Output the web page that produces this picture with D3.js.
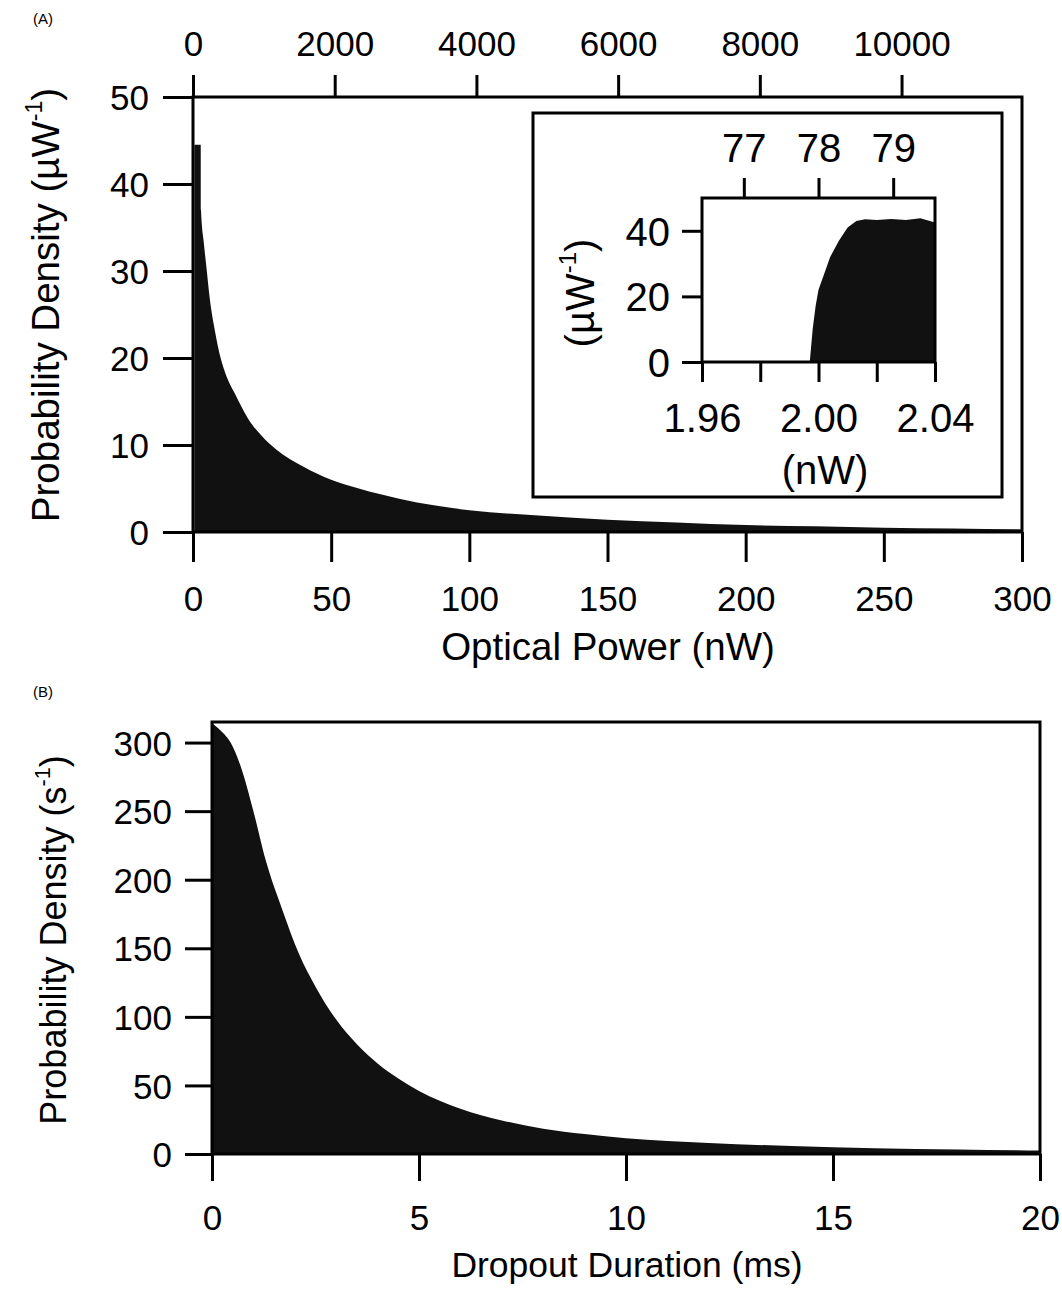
<!DOCTYPE html>
<html><head><meta charset="utf-8">
<script src="https://cdn.jsdelivr.net/npm/d3@7"></script>
<style>
html,body{margin:0;padding:0;background:#fff;}
svg text{font-family:"Liberation Sans",Arial,Helvetica,sans-serif;fill:#000;}
</style></head>
<body>
<svg id="chart" width="1062" height="1293"></svg>
<script>
// ---------- DATA ----------
// Panel A: optical power histogram (nW -> probability density µW^-1)
const powerNW   = [0.5, 2.8, 2.9, 4, 5, 6, 8, 10, 12, 15, 20, 25, 30, 40, 50, 60, 75, 100, 125, 150, 175, 200, 225, 250, 275, 300];
const densityA  = [44.5, 44.5, 37, 33, 30, 27, 23, 20, 18, 16, 13, 11, 9.5, 7.5, 6.0, 5.0, 3.8, 2.5, 1.9, 1.4, 1.1, 0.8, 0.65, 0.5, 0.4, 0.3];
const xTicksA     = [0, 50, 100, 150, 200, 250, 300];
const xTopTicksA  = [0, 2000, 4000, 6000, 8000, 10000];
const yTicksA     = [0, 10, 20, 30, 40, 50];
const topFactor   = 39; // top axis units per nW

// Inset: zoom near threshold
const insetPowerNW = [1.997, 1.998, 1.999, 2.000, 2.002, 2.004, 2.007, 2.010, 2.013, 2.016, 2.020, 2.025, 2.030, 2.035, 2.040];
const insetDensity = [0, 10, 17, 22, 27, 32, 37, 41, 43, 43.5, 43.3, 43.6, 43.3, 43.8, 42.5];
const insetXTicks      = [1.96, 1.98, 2.00, 2.02, 2.04];
const insetXTickLabels = ["1.96", "", "2.00", "", "2.04"];
const insetTopTicks    = [77, 78, 79];
const insetYTicks      = [0, 20, 40];

// Panel B: dropout duration (ms -> probability density s^-1)
const durationMS = [0, 0.2, 0.45, 0.7, 1.0, 1.3, 1.7, 2.1, 2.5, 3.0, 3.5, 4.0, 4.5, 5.0, 6.0, 7.0, 8.0, 9.0, 10, 11, 12, 14, 16, 18, 20];
const densityB   = [314, 309, 300, 282, 250, 214, 178, 146, 122, 98, 80, 66, 55, 46, 33, 24.5, 18.5, 14.5, 11.5, 9.5, 8, 5.8, 4.2, 3.2, 2.5];
const xTicksB    = [0, 5, 10, 15, 20];
const yTicksB    = [0, 50, 100, 150, 200, 250, 300];

// ---------- DRAW ----------
const svg = d3.select("#chart");
const FS = 35, FSI = 40, SW = 3;

function styleAxis(g, fs){
  g.select(".domain").remove();
  g.selectAll(".tick line").attr("stroke","#000").attr("stroke-width",SW);
  g.selectAll(".tick text").attr("font-size",fs).attr("fill","#000");
}
function frame(x0,y0,x1,y1){
  svg.append("rect").attr("x",x0).attr("y",y0).attr("width",x1-x0).attr("height",y1-y0)
    .attr("fill","none").attr("stroke","#000").attr("stroke-width",SW);
}
function ylabel(x,y,main,sup,fs){
  const t = svg.append("text").attr("transform",`translate(${x},${y}) rotate(-90)`)
    .attr("text-anchor","middle").attr("font-size",fs);
  t.append("tspan").text(main);
  t.append("tspan").attr("font-size",fs*0.6).attr("dy",-fs*0.45).text(sup);
  t.append("tspan").attr("dy",fs*0.45).text(")");
}

// Panel A
const xA = d3.scaleLinear().domain([0,300]).range([193,1022]);
const yA = d3.scaleLinear().domain([0,50]).range([532,97]);
const xAT = d3.scaleLinear().domain([0,300*topFactor]).range([193,1022]);

const dataA = powerNW.map((p,i)=>({x:p,y:densityA[i]}));
svg.append("path").datum(dataA)
  .attr("d", d3.area().x(d=>xA(d.x)).y0(yA(0)).y1(d=>yA(d.y)).curve(d3.curveMonotoneX))
  .attr("fill","#111");

svg.append("g").attr("transform","translate(0,532)")
  .call(d3.axisBottom(xA).tickValues(xTicksA).tickSize(30).tickPadding(24).tickFormat(d3.format("d")))
  .call(g=>styleAxis(g,FS));
svg.append("g").attr("transform","translate(0,97)")
  .call(d3.axisTop(xAT).tickValues(xTopTicksA).tickSize(22).tickPadding(19).tickFormat(d3.format("d")))
  .call(g=>styleAxis(g,FS));
svg.append("g").attr("transform","translate(193,0)")
  .call(d3.axisLeft(yA).tickValues(yTicksA).tickSize(30).tickPadding(14).tickFormat(d3.format("d")))
  .call(g=>{styleAxis(g,FS); g.selectAll(".tick text").attr("dy","0.36em");});
frame(193,97,1022,532);

svg.append("text").attr("x",608).attr("y",660).attr("text-anchor","middle").attr("font-size",38.5).text("Optical Power (nW)");
ylabel(59,305,"Probability Density (µW","-1",38.5);
svg.append("text").attr("x",33).attr("y",24).attr("font-family","Liberation Serif, serif").attr("font-size",15).text("(A)");

// Inset
frame(533,113,1002,497);
const xI = d3.scaleLinear().domain([1.96,2.04]).range([702,935]);
const yI = d3.scaleLinear().domain([0,50]).range([362,198]);
const xIT = d3.scaleLinear().domain([1.96*topFactor,2.04*topFactor]).range([702,935]);
const dataI = insetPowerNW.map((p,i)=>({x:p,y:insetDensity[i]}));
svg.append("path").datum(dataI)
  .attr("d", d3.area().x(d=>xI(d.x)).y0(yI(0)).y1(d=>yI(d.y)))
  .attr("fill","#111");
svg.append("g").attr("transform","translate(0,362)")
  .call(d3.axisBottom(xI).tickValues(insetXTicks).tickSize(20).tickPadding(22).tickFormat((d,i)=>insetXTickLabels[i]))
  .call(g=>styleAxis(g,FSI));
svg.append("g").attr("transform","translate(0,198)")
  .call(d3.axisTop(xIT).tickValues(insetTopTicks).tickSize(20).tickPadding(16).tickFormat(d3.format("d")))
  .call(g=>styleAxis(g,FSI));
svg.append("g").attr("transform","translate(702,0)")
  .call(d3.axisLeft(yI).tickValues(insetYTicks).tickSize(20).tickPadding(12).tickFormat(d3.format("d")))
  .call(g=>{styleAxis(g,FSI); g.selectAll(".tick text").attr("dy","0.36em");});
frame(702,198,935,362);
svg.append("text").attr("x",825).attr("y",484).attr("text-anchor","middle").attr("font-size",FSI).text("(nW)");
(function(){
  const fs=FSI, t = svg.append("text").attr("transform","translate(594,293) rotate(-90)")
    .attr("text-anchor","middle").attr("font-size",fs);
  t.append("tspan").text("(µW");
  t.append("tspan").attr("font-size",fs*0.6).attr("dy",-fs*0.45).text("-1");
  t.append("tspan").attr("dy",fs*0.45).text(")");
})();

// Panel B
const xB = d3.scaleLinear().domain([0,20]).range([212,1040]);
const yB = d3.scaleLinear().domain([0,315]).range([1154,722]);
const dataB = durationMS.map((t,i)=>({x:t,y:densityB[i]}));
svg.append("path").datum(dataB)
  .attr("d", d3.area().x(d=>xB(d.x)).y0(yB(0)).y1(d=>yB(d.y)).curve(d3.curveMonotoneX))
  .attr("fill","#111");
svg.append("g").attr("transform","translate(0,1154)")
  .call(d3.axisBottom(xB).tickValues(xTicksB).tickSize(27).tickPadding(24).tickFormat(d3.format("d")))
  .call(g=>styleAxis(g,FS));
svg.append("g").attr("transform","translate(212,0)")
  .call(d3.axisLeft(yB).tickValues(yTicksB).tickSize(27).tickPadding(13).tickFormat(d3.format("d")))
  .call(g=>{styleAxis(g,FS); g.selectAll(".tick text").attr("dy","0.36em");});
frame(212,722,1040,1154);
svg.append("text").attr("x",627).attr("y",1277).attr("text-anchor","middle").attr("font-size",35.5).text("Dropout Duration (ms)");
ylabel(66,940,"Probability Density (s","-1",36);
svg.append("text").attr("x",33).attr("y",697).attr("font-family","Liberation Serif, serif").attr("font-size",15).text("(B)");
</script>
</body></html>
